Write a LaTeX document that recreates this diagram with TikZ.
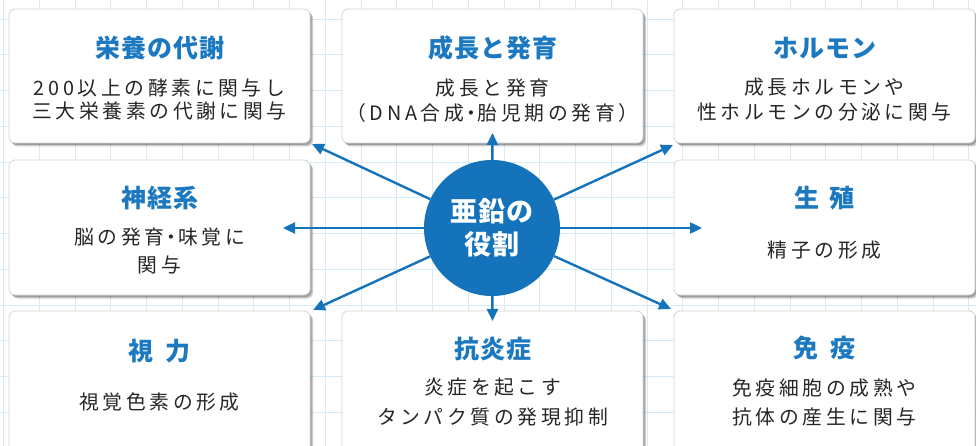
\documentclass[tikz,border=0pt]{standalone}
\usepackage{fontspec}
\newfontfamily\cjkttl[LetterSpace=4]{Noto Sans CJK JP}
\newfontfamily\cjkbody[LetterSpace=18.5]{Noto Sans CJK JP}
\newfontfamily\cjkmid[LetterSpace=4]{Noto Sans CJK JP}
\newcommand\zdot{\kern-3pt・\kern-3pt}
\usetikzlibrary{arrows.meta,shadows}
\definecolor{zblue}{HTML}{1473BA}
\definecolor{ztitle}{HTML}{1C79C0}
\definecolor{zgrid}{HTML}{D6EBF8}
\definecolor{ztext}{HTML}{262626}
\begin{document}
\begin{tikzpicture}[x=1pt,y=-1pt,
  card/.style={draw=black!17, fill=white, rounded corners=6pt, line width=0.8pt,
    minimum width=301pt, inner sep=0pt,
    drop shadow={shadow xshift=3pt, shadow yshift=-3.5pt, fill=black, opacity=0.2},
    drop shadow={shadow xshift=1.6pt, shadow yshift=-2pt, fill=black, opacity=0.24}},
  ttl/.style={font=\cjkttl\bfseries\fontsize{25}{28}\selectfont, text=ztitle, inner sep=0pt},
  body/.style={font=\cjkbody\fontsize{19.8}{24}\selectfont, text=ztext, align=center, inner sep=0pt},
  arr/.style={draw=zblue, line width=2.4pt, -{Triangle[length=12pt,width=11pt]}},
  gridline/.style={draw=zgrid, line width=0.9pt},
]
\useasboundingbox (0,0) rectangle (976,446);
\fill[white] (0,0) rectangle (976,446);
% background grid
\foreach \i in {0,...,27} \draw[gridline] (3.5+35.75*\i,0) -- (3.5+35.75*\i,446);
\foreach \j in {0,...,12} \draw[gridline] (0,19+35.75*\j) -- (976,19+35.75*\j);

% cards
\node[card, minimum height=134pt] (tl) at (159.5,76) {};
\node[card, minimum height=134pt] (tm) at (492.5,76) {};
\node[card, minimum height=134pt] (tr) at (824.5,76) {};
\node[card, minimum height=135pt] (ml) at (159.5,227.5) {};
\node[card, minimum height=135pt] (mr) at (824.5,227.5) {};
\node[card, minimum height=142pt] (bl) at (159.5,382) {};
\node[card, minimum height=142pt] (bm) at (492.5,382) {};
\node[card, minimum height=142pt] (br) at (824.5,382) {};

% centre
\node[circle, fill=zblue, minimum size=136pt, inner sep=0pt, text=white, align=center,
  font=\cjkmid\bfseries\fontsize{27}{33}\selectfont] (c) at (492,228) {亜鉛の\\役割};

% arrow tips
\coordinate (pu) at (492.5,133);
\coordinate (pd) at (492.5,321);
\coordinate (pl) at (283,228);
\coordinate (pr) at (702,228);
\coordinate (ptl) at (312,144);
\coordinate (ptr) at (673,145);
\coordinate (pbl) at (313,310);
\coordinate (pbr) at (671,309);
\foreach \t in {pu,pd,pl,pr,ptl,ptr,pbl,pbr} \draw[arr] (c) -- (\t);

% titles
\node[ttl] (t1) at (159.5,48) {栄養の代謝};
\node[ttl] (t2) at (492.5,48) {成長と発育};
\node[ttl] (t3) at (824.5,48) {ホルモン};
\node[ttl] (t4) at (159.5,198) {神経系};
\node[ttl] (t5) at (824.5,198) {生\hspace{0.4em}殖};
\node[ttl] (t6) at (159.5,351) {視\hspace{0.45em}力};
\node[ttl] (t7) at (492.5,349) {抗炎症};
\node[ttl] (t8) at (824.5,348) {免\hspace{0.45em}疫};

% bodies
\node[body, font=\cjkbody\fontsize{19.8}{23.5}\selectfont] (b1) at (159.5,99.5) {200以上の酵素に関与し\\三大栄養素の代謝に関与};
\node[body, font=\cjkbody\fontsize{19.8}{25}\selectfont] (b2) at (492.5,100.5) {成長と発育\\（DNA合成\zdot 胎児期の発育）};
\node[body, font=\cjkbody\fontsize{19.8}{25}\selectfont] (b3) at (824.5,99.5) {成長ホルモンや\\性ホルモンの分泌に関与};
\node[body, font=\cjkbody\fontsize{19.8}{28}\selectfont] (b4) at (159.5,251) {脳の発育\zdot 味覚に\\関与};
\node[body] (b5) at (824.5,250) {精子の形成};
\node[body] (b6) at (159.5,402) {視覚色素の形成};
\node[body, font=\cjkbody\fontsize{19.8}{30}\selectfont] (b7) at (492.5,402) {炎症を起こす\\タンパク質の発現抑制};
\node[body, font=\cjkbody\fontsize{19.8}{29}\selectfont] (b8) at (824.5,402.5) {免疫細胞の成熟や\\抗体の産生に関与};
\end{tikzpicture}
\end{document}
